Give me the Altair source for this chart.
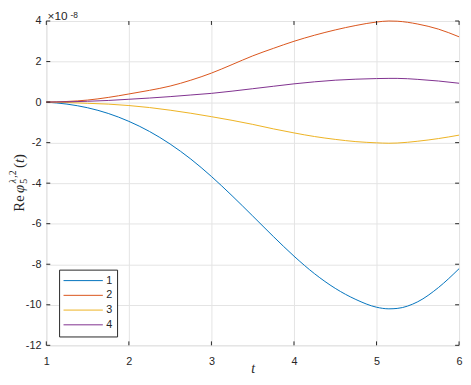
import altair as alt
import pandas as pd

# time grid
t = [1, 1.25, 1.5, 1.75, 2, 2.25, 2.5, 2.75, 3, 3.25, 3.5, 3.75, 4, 4.25, 4.5, 4.75,
     5, 5.15, 5.25, 5.5, 5.75, 6]

# series values in units of 1e-8
s1 = [0, -0.1, -0.28, -0.56, -0.95, -1.45, -2.07, -2.81, -3.67, -4.62, -5.62, -6.63,
      -7.6, -8.47, -9.19, -9.74, -10.12, -10.2, -10.18, -9.85, -9.15, -8.22]
s2 = [0, 0.03, 0.1, 0.23, 0.4, 0.58, 0.79, 1.08, 1.43, 1.85, 2.28, 2.65,
      3.0, 3.3, 3.56, 3.78, 3.95, 4.0, 3.99, 3.85, 3.6, 3.22]
s3 = [0, -0.02, -0.06, -0.1, -0.17, -0.27, -0.4, -0.55, -0.72, -0.9, -1.1, -1.32,
      -1.52, -1.7, -1.84, -1.95, -2.01, -2.03, -2.02, -1.93, -1.8, -1.63]
s4 = [0, 0.01, 0.04, 0.08, 0.14, 0.2, 0.27, 0.35, 0.43, 0.54, 0.66, 0.78,
      0.9, 1.0, 1.08, 1.13, 1.16, 1.17, 1.17, 1.12, 1.04, 0.93]

series_names = ["1", "2", "3", "4"]
colors = ["#0072BD", "#D95319", "#EDB120", "#7E2F8E"]
x_ticks = [1, 2, 3, 4, 5, 6]
y_ticks = [-12, -10, -8, -6, -4, -2, 0, 2, 4]

rows = []
for name, vals in zip(series_names, [s1, s2, s3, s4]):
    for ti, v in zip(t, vals):
        rows.append({"t": ti, "v": v, "s": name})
df = pd.DataFrame(rows)

W, H = 420, 330
AX = "#262626"

xscale = alt.Scale(domain=[1, 6], nice=False, zero=False)
yscale = alt.Scale(domain=[-12, 4], nice=False, zero=False)

x_axis = alt.Axis(
    values=x_ticks, title="t", labelExpr="'' + datum.value",
    labelFlush=False, labelPadding=10.5, ticks=False, tickSize=0, domain=False,
    grid=True, gridColor="#e3e3e3", gridWidth=1,
    labelFont="Liberation Sans", labelFontSize=11, labelColor=AX,
    titleFont="Liberation Serif", titleFontStyle="italic", titleFontSize=14,
    titleFontWeight="normal", titleColor=AX, titleBaseline="alphabetic", titleY=28)
y_axis = alt.Axis(
    values=y_ticks, title=None, labelExpr="'' + datum.value",
    labelFlush=False, labelPadding=5.5, ticks=False, tickSize=0, domain=False,
    grid=True, gridColor="#e3e3e3", gridWidth=1,
    labelFont="Liberation Sans", labelFontSize=11, labelColor=AX)

lines = alt.Chart(df).mark_line(strokeWidth=1, interpolate="monotone").encode(
    x=alt.X("t:Q", scale=xscale, axis=x_axis),
    y=alt.Y("v:Q", scale=yscale, axis=y_axis),
    color=alt.Color("s:N", scale=alt.Scale(domain=series_names, range=colors),
                    legend=alt.Legend(
                        orient="none", legendX=13, legendY=253, title=None,
                        symbolType="stroke", symbolSize=1600, symbolStrokeWidth=1,
                        clipHeight=14.3, rowPadding=0, padding=4, labelOffset=3,
                        labelFont="Liberation Sans", labelFontSize=11, labelColor=AX,
                        strokeColor=AX, fillColor="white")),
)

xt = pd.DataFrame({"t": x_ticks})
yt = pd.DataFrame({"v": y_ticks})
tick_bottom = alt.Chart(xt).mark_rule(color=AX, strokeWidth=1).encode(
    x=alt.X("t:Q", scale=xscale, axis=x_axis), y=alt.value(H), y2=alt.value(H - 4))
tick_top = alt.Chart(xt).mark_rule(color=AX, strokeWidth=1).encode(
    x=alt.X("t:Q", scale=xscale, axis=x_axis), y=alt.value(0), y2=alt.value(4))
tick_left = alt.Chart(yt).mark_rule(color=AX, strokeWidth=1).encode(
    y=alt.Y("v:Q", scale=yscale, axis=y_axis), x=alt.value(0), x2=alt.value(4))
tick_right = alt.Chart(yt).mark_rule(color=AX, strokeWidth=1).encode(
    y=alt.Y("v:Q", scale=yscale, axis=y_axis), x=alt.value(W), x2=alt.value(W - 4))

one = pd.DataFrame({"k": [0]})


def txt(s, x, y, size, font="Liberation Serif", style="normal", angle=270):
    return alt.Chart(one).mark_text(
        text=s, font=font, fontSize=size, fontStyle=style, angle=angle,
        align="left", baseline="alphabetic", color=AX,
    ).encode(x=alt.value(x), y=alt.value(y))


ylabel = [
    txt("Re", -22.5, 194, 15),
    txt("φ", -22.5, 175, 15, style="italic"),
    txt("5", -19.5, 165.5, 10),
    txt("λ", -31, 165, 10, style="italic"),
    txt(",2", -31, 159.5, 10),
    txt("(", -22.5, 149.5, 15),
    txt("t", -22.5, 144.5, 15, style="italic"),
    txt(")", -22.5, 140.3, 15),
]

expo = [
    txt("×10", 1.3, -1.5, 12, font="Liberation Sans", angle=0),
    txt("-8", 24.5, -3.5, 8.5, font="Liberation Sans", angle=0),
]

chart = alt.layer(
    lines, tick_bottom, tick_top, tick_left, tick_right, *ylabel, *expo
).properties(
    width=W, height=H,
    autosize=alt.AutoSizeParams(type="none"),
    padding={"left": 39, "top": 10, "right": 4, "bottom": 29},
).configure_view(stroke=AX, strokeWidth=1).configure(font="Liberation Sans")

chart.save("out.html", embed_options={"renderer": "svg", "actions": False})
